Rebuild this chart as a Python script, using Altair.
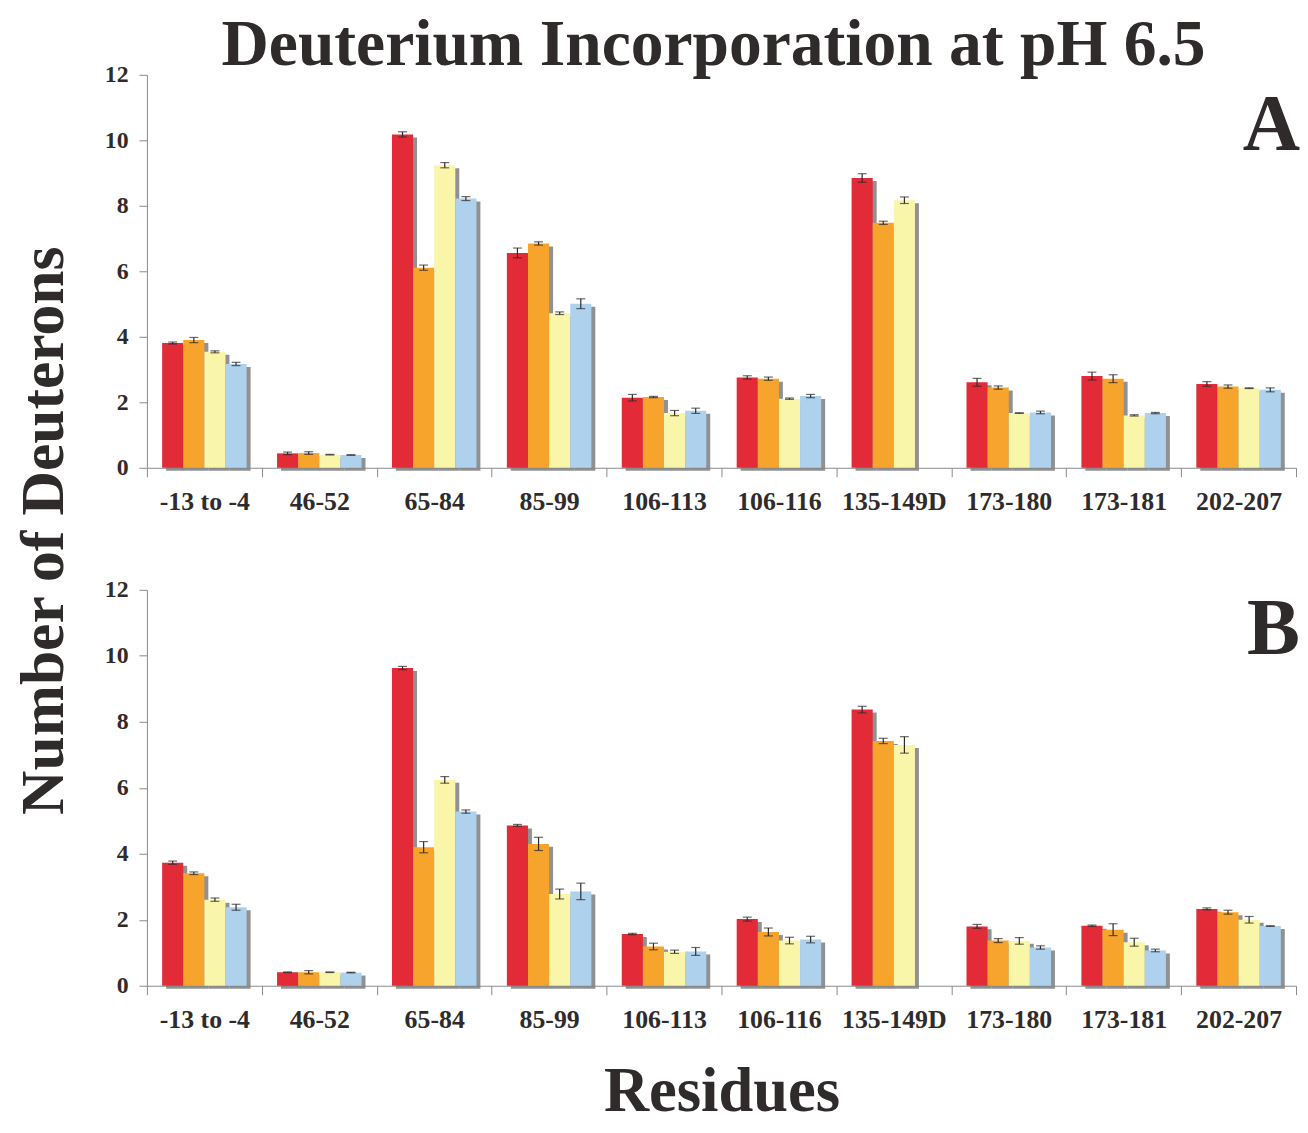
import altair as alt
import pandas as pd

residues = ["-13 to -4", "46-52", "65-84", "85-99", "106-113", "106-116",
            "135-149D", "173-180", "173-181", "202-207"]
series = ["Set 1", "Set 2", "Set 3", "Set 4"]
colors = ["#E32A37", "#F7A42C", "#F9F5A9", "#AED2EE"]

# Panel A values and errors (one list per series)
a_s1 = [3.81, 0.44, 10.18, 6.56, 2.14, 2.76, 8.85, 2.61, 2.80, 2.56]
a_s2 = [3.90, 0.45, 6.11, 6.85, 2.16, 2.72, 7.48, 2.45, 2.72, 2.48]
a_s3 = [3.54, 0.40, 9.24, 4.72, 1.67, 2.11, 8.17, 1.67, 1.60, 2.43]
a_s4 = [3.17, 0.39, 8.22, 5.01, 1.74, 2.19, None, 1.69, 1.67, 2.38]
a_e1 = [0.03, 0.04, 0.08, 0.15, 0.10, 0.05, 0.13, 0.12, 0.12, 0.07]
a_e2 = [0.08, 0.04, 0.08, 0.05, 0.02, 0.05, 0.05, 0.05, 0.12, 0.05]
a_e3 = [0.03, 0.01, 0.08, 0.04, 0.08, 0.02, 0.10, 0.01, 0.02, 0.01]
a_e4 = [0.05, 0.01, 0.06, 0.15, 0.08, 0.05, None, 0.04, 0.02, 0.06]

# Panel B values and errors
b_s1 = [3.73, 0.41, 9.63, 4.86, 1.57, 2.02, 8.37, 1.80, 1.82, 2.33]
b_s2 = [3.41, 0.41, 4.20, 4.30, 1.19, 1.63, 7.42, 1.37, 1.70, 2.23]
b_s3 = [2.61, 0.41, 6.24, 2.78, 1.03, 1.37, 7.30, 1.36, 1.32, 2.00]
b_s4 = [2.38, 0.40, 5.28, 2.86, 1.04, 1.40, None, 1.16, 1.07, 1.81]
b_e1 = [0.05, 0.01, 0.05, 0.03, 0.02, 0.06, 0.10, 0.06, 0.02, 0.03]
b_e2 = [0.04, 0.05, 0.17, 0.20, 0.10, 0.12, 0.08, 0.06, 0.18, 0.06]
b_e3 = [0.05, 0.01, 0.10, 0.15, 0.05, 0.10, 0.25, 0.10, 0.12, 0.10]
b_e4 = [0.09, 0.01, 0.05, 0.25, 0.12, 0.10, None, 0.05, 0.04, 0.01]

y_ticks = [0, 2, 4, 6, 8, 10, 12]

rows = []
for panel, vals, errs in (
    ("A", [a_s1, a_s2, a_s3, a_s4], [a_e1, a_e2, a_e3, a_e4]),
    ("B", [b_s1, b_s2, b_s3, b_s4], [b_e1, b_e2, b_e3, b_e4]),
):
    for s, vl, el in zip(series, vals, errs):
        for r, v, e in zip(residues, vl, el):
            if v is None:
                continue
            rows.append({"panel": panel, "residue": r, "series": s,
                         "value": v, "err": e})
df = pd.DataFrame(rows)

FONT = "Liberation Serif"
TXT = "#302b2b"
AX = "#8a8a8a"
W = 1158
OUTER = 0.72


def make_panel(name, letter, letter_y, first, height):
    base = alt.Chart(df).transform_filter(
        alt.datum.panel == name
    ).transform_calculate(
        lo="datum.value - datum.err", hi="datum.value + datum.err"
    )

    xaxis_kw = dict(labelAngle=0, labelFont=FONT, labelFontSize=26,
                    labelFontWeight="bold", labelColor=TXT, tickBand="extent",
                    tickSize=9, tickColor=AX, domainColor=AX, labelPadding=12,
                    titleFont=FONT, titleFontSize=63, titleFontWeight="bold",
                    titleColor=TXT, titlePadding=29)
    x = alt.X("residue:N", sort=residues,
              title=None if first else "Residues",
              scale=alt.Scale(paddingInner=0, paddingOuter=0),
              axis=alt.Axis(**xaxis_kw))

    yaxis_kw = dict(values=y_ticks, format="d", grid=False, labelFont=FONT,
                    labelFontSize=24, labelFontWeight="bold", labelColor=TXT,
                    tickSize=8, tickColor=AX, domainColor=AX, labelPadding=11)
    if first:
        yaxis_kw.update(titleFont=FONT, titleFontSize=62, titleFontWeight="bold",
                        titleColor=TXT, titleAngle=270, titleX=-104,
                        titleY=459, titleAlign="center",
                        titleBaseline="middle")

    def yenc(field):
        return alt.Y(field, title="Number of Deuterons" if first else None,
                     scale=alt.Scale(domain=[0, 12]),
                     axis=alt.Axis(**yaxis_kw))

    xo = alt.XOffset("series:N", sort=series,
                     scale=alt.Scale(paddingInner=0, paddingOuter=OUTER, align=0.5))
    xo_shadow = alt.XOffset("series:N", sort=series,
                            scale=alt.Scale(paddingInner=0, paddingOuter=OUTER,
                                            align=0.63))

    shadow = base.mark_bar(color="#858585", opacity=0.9, yOffset=3).encode(
        x=x, xOffset=xo_shadow, y=yenc("value:Q")
    )
    bars = base.mark_bar().encode(
        x=x, xOffset=xo, y=yenc("value:Q"),
        color=alt.Color("series:N", sort=series,
                        scale=alt.Scale(domain=series, range=colors),
                        legend=None),
    )
    rule = base.mark_rule(color="#2b2b2b", strokeWidth=1.2).encode(
        x=x, xOffset=xo, y=yenc("lo:Q"), y2="hi:Q"
    )
    cap_lo = base.mark_tick(color="#2b2b2b", thickness=1.2, size=9).encode(
        x=x, xOffset=xo, y=yenc("lo:Q")
    )
    cap_hi = base.mark_tick(color="#2b2b2b", thickness=1.2, size=9).encode(
        x=x, xOffset=xo, y=yenc("hi:Q")
    )
    label = alt.Chart(pd.DataFrame({"t": [letter]})).mark_text(
        font=FONT, fontSize=80, fontWeight="bold", color=TXT,
        align="right", baseline="alphabetic"
    ).encode(text="t:N", x=alt.value(W + 4), y=alt.value(letter_y))

    return alt.layer(shadow, bars, rule, cap_lo, cap_hi, label).resolve_scale(
        xOffset="independent"
    ).properties(width=W, height=height)


panel_a = make_panel("A", "A", 76, True, 396)
panel_b = make_panel("B", "B", 65, False, 399)

chart = alt.vconcat(panel_a, panel_b, spacing=123, bounds="flush").properties(
    title=alt.TitleParams(
        text="Deuterium Incorporation at pH 6.5", font=FONT, fontSize=66,
        fontWeight="bold", color=TXT, anchor="middle", frame="group",
        offset=-16, dx=-8
    ),
    padding={"left": 4, "top": 0, "right": 0, "bottom": 0},
).configure_view(stroke=None)

chart.save("out.html", embed_options={"renderer": "svg", "actions": False})
